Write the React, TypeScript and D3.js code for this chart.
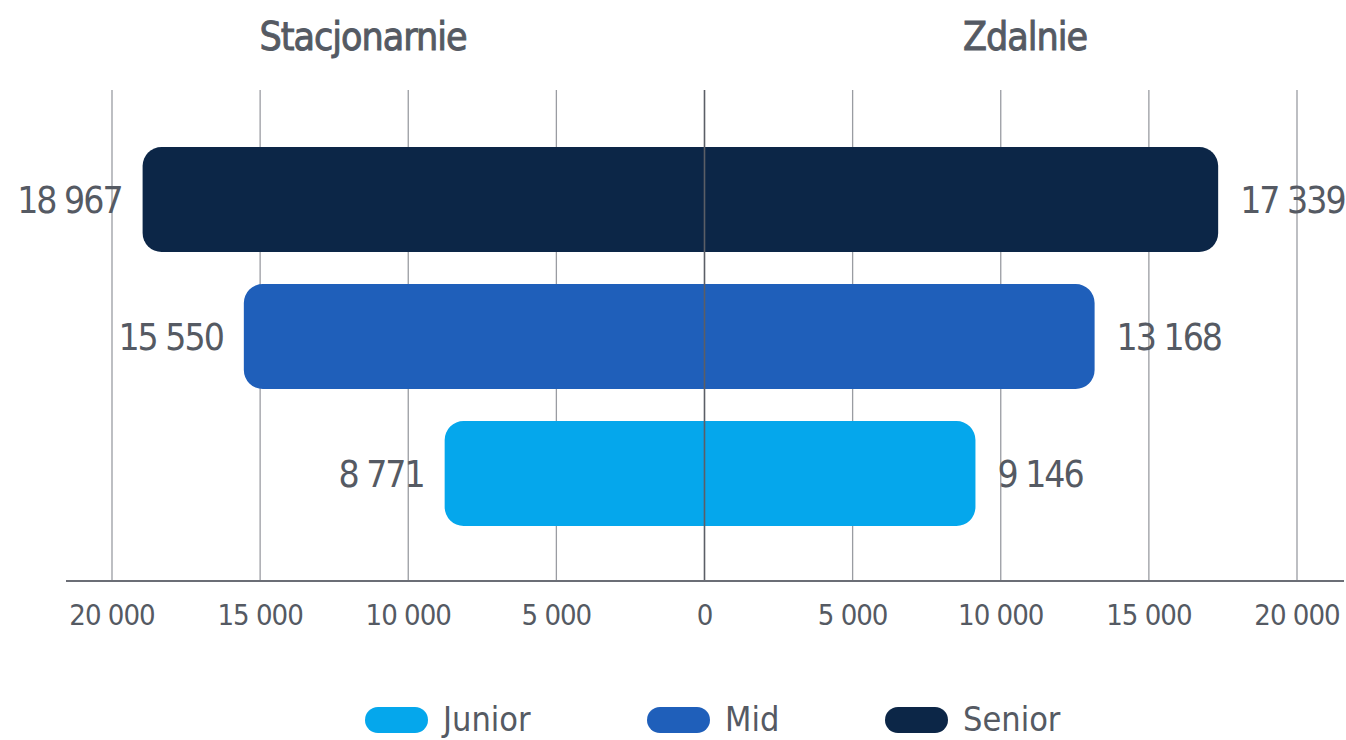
import React, { useEffect, useRef } from 'react';
import * as d3 from 'd3';

const categories = ['Senior', 'Mid', 'Junior'];
const stacjonarnie = [18967, 15550, 8771];
const zdalnie = [17339, 13168, 9146];
const tickValues = [-20000, -15000, -10000, -5000, 0, 5000, 10000, 15000, 20000];
const legendOrder = ['Junior', 'Mid', 'Senior'];
const colors: Record<string, string> = { Junior: '#05a7ec', Mid: '#1f5fba', Senior: '#0c2647' };

const FONT = "'DejaVu Sans Condensed', 'DejaVu Sans', sans-serif";
const TEXT = '#555a63';

const locale = d3.formatLocale({ decimal: ',', thousands: ' ', grouping: [3], currency: ['', ''] });
const fmt = locale.format(',d');

// bar spanning both sides, rounded only at the outer ends
function barPath(x0: number, x1: number, y0: number, h: number, r: number) {
  const p = d3.path();
  p.moveTo(x0 + r, y0);
  p.lineTo(x1 - r, y0);
  p.arcTo(x1, y0, x1, y0 + r, r);
  p.lineTo(x1, y0 + h - r);
  p.arcTo(x1, y0 + h, x1 - r, y0 + h, r);
  p.lineTo(x0 + r, y0 + h);
  p.arcTo(x0, y0 + h, x0, y0 + h - r, r);
  p.lineTo(x0, y0 + r);
  p.arcTo(x0, y0, x0 + r, y0, r);
  p.closePath();
  return p.toString();
}

export default function App() {
  const ref = useRef<SVGSVGElement>(null);

  useEffect(() => {
    const svg = d3.select(ref.current);
    svg.selectAll('*').remove();

    const x = d3.scaleLinear().domain([-20000, 20000]).range([112, 1297]);
    const y = d3.scaleBand().domain(categories).range([131, 542]).paddingInner(0.234).paddingOuter(0.117);
    const axisY = 581;

    // gridlines
    svg.append('g')
      .selectAll('line')
      .data(tickValues.filter(t => t !== 0))
      .enter()
      .append('line')
      .attr('x1', d => x(d)).attr('x2', d => x(d))
      .attr('y1', 90).attr('y2', axisY)
      .attr('stroke', '#9a9ca2')
      .attr('stroke-width', 1.3);

    // bars
    const bars = svg.append('g');
    categories.forEach((c, i) => {
      bars.append('path')
        .attr('d', barPath(x(-stacjonarnie[i]), x(zdalnie[i]), y(c)!, y.bandwidth(), 19))
        .attr('fill', colors[c]);
    });

    // center line
    svg.append('line')
      .attr('x1', x(0)).attr('x2', x(0))
      .attr('y1', 90).attr('y2', axisY)
      .attr('stroke', '#5b5e66')
      .attr('stroke-width', 1.6);

    // axis line
    svg.append('line')
      .attr('x1', 66).attr('x2', 1344)
      .attr('y1', axisY).attr('y2', axisY)
      .attr('stroke', '#6b6e76')
      .attr('stroke-width', 2);

    // tick labels
    svg.append('g')
      .selectAll('text')
      .data(tickValues)
      .enter()
      .append('text')
      .attr('x', d => x(d))
      .attr('y', 625)
      .attr('text-anchor', 'middle')
      .attr('font-family', FONT)
      .attr('font-size', 29)
      .attr('letter-spacing', -1)
      .attr('fill', TEXT)
      .text(d => fmt(Math.abs(d)));

    // value labels
    const labels = svg.append('g')
      .attr('font-family', FONT)
      .attr('font-size', 37)
      .attr('letter-spacing', -2)
      .attr('fill', TEXT);
    categories.forEach((c, i) => {
      const cy = y(c)! + y.bandwidth() / 2 + 13;
      labels.append('text')
        .attr('x', x(-stacjonarnie[i]) - 21)
        .attr('y', cy)
        .attr('text-anchor', 'end')
        .text(fmt(stacjonarnie[i]));
      labels.append('text')
        .attr('x', x(zdalnie[i]) + 22)
        .attr('y', cy)
        .attr('text-anchor', 'start')
        .text(fmt(zdalnie[i]));
    });

    // titles
    const titles = [
      { label: 'Stacjonarnie', cx: 363 },
      { label: 'Zdalnie', cx: 1025 },
    ];
    svg.append('g')
      .selectAll('text')
      .data(titles)
      .enter()
      .append('text')
      .attr('x', d => d.cx).attr('y', 50)
      .attr('text-anchor', 'middle')
      .attr('font-family', FONT).attr('font-size', 39)
      .attr('letter-spacing', -1)
      .attr('fill', TEXT)
      .attr('stroke', TEXT)
      .attr('stroke-width', 0.9)
      .text(d => d.label);

    // legend
    const legendX = [365, 647, 885];
    const lg = svg.append('g');
    legendOrder.forEach((c, i) => {
      lg.append('rect')
        .attr('x', legendX[i]).attr('y', 707)
        .attr('width', 63).attr('height', 26)
        .attr('rx', 13)
        .attr('fill', colors[c]);
      lg.append('text')
        .attr('x', legendX[i] + 78).attr('y', 731)
        .attr('font-family', FONT).attr('font-size', 34)
        .attr('fill', TEXT)
        .text(c);
    });
  }, []);

  return (
    <svg
      ref={ref}
      width={1346}
      height={740}
      style={{ position: 'absolute', left: 0, top: 0, background: '#fff' }}
    />
  );
}
